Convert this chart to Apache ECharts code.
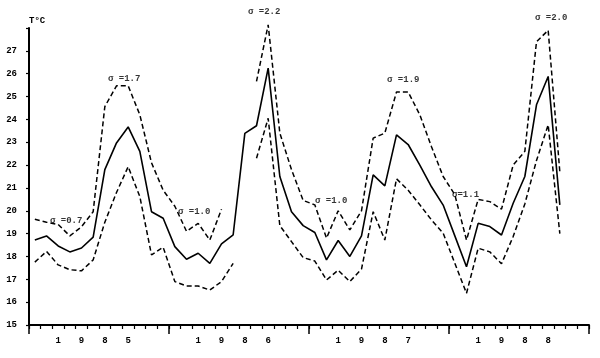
<!DOCTYPE html>
<html>
<head>
<meta charset="utf-8">
<script src="https://cdn.jsdelivr.net/npm/echarts@6/dist/echarts.min.js"></script>
<style>
html,body{margin:0;padding:0;background:#fff;}
#chart{width:600px;height:358px;}
</style>
</head>
<body>
<div id="chart"></div>
<script>
// ---- data (monthly, 1985-1988) ----
const months = [];
['1985','1986','1987','1988'].forEach(y => { for (let m = 1; m <= 12; m++) months.push(y + '-' + m); });

const xTickLabels = [
  '', '', '1', '', '9', '', '8', '', '5', '', '', '',
  '', '', '1', '', '9', '', '8', '', '6', '', '', '',
  '', '', '1', '', '9', '', '8', '', '7', '', '', '',
  '', '', '1', '', '9', '', '8', '', '8', '', '', ''
];

const meanT = [
  18.72, 18.9, 18.46, 18.2, 18.37, 18.85, 21.8, 22.97, 23.67, 22.6, 19.96, 19.67,
  18.43, 17.88, 18.14, 17.7, 18.55, 18.95, 23.39, 23.72, 26.24, 21.5, 19.96, 19.35,
  19.05, 17.85, 18.7, 18.0, 18.9, 21.57, 21.09, 23.32, 22.9, 22.0, 21.05, 20.25,
  18.9, 17.55, 19.45, 19.31, 18.94, 20.33, 21.5, 24.64, 25.88, 20.26, null, null
];

const upperT = [
  19.63, 19.5, 19.4, 18.9, 19.3, 19.96, 24.56, 25.47, 25.47, 24.2, 22.1, 20.9,
  20.2, 19.1, 19.45, 18.72, 20.07, null, null, 25.66, 28.14, 23.4, 21.8, 20.45,
  20.26, 18.8, 20.0, 19.16, 20.0, 23.18, 23.4, 25.2, 25.2, 24.2, 22.8, 21.5,
  20.7, 18.72, 20.5, 20.4, 20.07, 22.0, 22.6, 27.4, 27.9, 21.7, null, null
];

const lowerT = [
  17.75, 18.22, 17.63, 17.42, 17.37, 17.85, 19.5, 20.8, 21.93, 20.62, 18.07, 18.4,
  16.9, 16.71, 16.71, 16.53, 16.9, 17.7, null, 22.3, 24.05, 19.35, 18.65, 17.95,
  17.8, 16.97, 17.4, 16.9, 17.45, 19.96, 18.72, 21.4, 20.9, 20.26, 19.6, 19.02,
  17.7, 16.39, 18.36, 18.2, 17.68, 18.87, 20.3, 22.2, 23.76, 19.0, null, null
];

// sigma annotations: [month position, temperature, text]
const sigmaNotes = [
  [1.8, 19.56, 'σ =0.7'],
  [6.77, 25.78, 'σ =1.7'],
  [12.77, 19.95, 'σ =1.0'],
  [18.77, 28.7, 'σ =2.2'],
  [24.51, 20.43, 'σ =1.0'],
  [30.69, 25.73, 'σ =1.9'],
  [36.26, 20.69, 'σ=1.1'],
  [43.37, 28.45, 'σ =2.0']
];

const yMin = 15, yMax = 28;

// ---- chart ----
const FONT = '"Liberation Mono", "DejaVu Sans Mono", monospace';
const chart = echarts.init(document.getElementById('chart'), null, {renderer: 'canvas'});
const dashed = {color: '#000', width: 1.5, type: [5, 3]};

chart.setOption({
  animation: false,
  backgroundColor: '#fff',
  grid: {left: 29, right: 11, top: 28, bottom: 33},
  xAxis: [
    {
      type: 'category', data: months, boundaryGap: true,
      axisLine: {lineStyle: {color: '#000', width: 2}},
      axisTick: {show: true, interval: 0, length: 4, lineStyle: {color: '#000', width: 1.2}},
      axisLabel: {
        interval: 0, margin: 11, color: '#000', fontFamily: FONT, fontWeight: 'bold', fontSize: 9,
        formatter: (v, i) => xTickLabels[i]
      },
      splitLine: {show: false}
    },
    {
      type: 'category', data: months, boundaryGap: true, position: 'bottom',
      axisLine: {show: false},
      axisTick: {show: true, interval: 11, length: 9, lineStyle: {color: '#000', width: 1.5}},
      axisLabel: {show: false},
      splitLine: {show: false}
    },
    {type: 'value', min: 0, max: 48, show: false}
  ],
  yAxis: {
    type: 'value', min: yMin, max: yMax, interval: 1,
    name: 'T°C', nameLocation: 'end', nameGap: 3,
    nameTextStyle: {align: 'left', verticalAlign: 'bottom', color: '#000', fontFamily: FONT, fontWeight: 'bold', fontSize: 9},
    axisLine: {show: true, lineStyle: {color: '#000', width: 2}},
    axisTick: {show: true, length: 3, lineStyle: {color: '#000', width: 1.2}},
    axisLabel: {
      margin: 12, color: '#000', fontFamily: FONT, fontWeight: 'bold', fontSize: 9,
      formatter: v => (v === yMax ? '' : String(v))
    },
    splitLine: {show: false}
  },
  series: [
    {
      name: 'mean', type: 'line', data: meanT, xAxisIndex: 0,
      showSymbol: false, clip: false, connectNulls: false,
      lineStyle: {color: '#000', width: 1.6}
    },
    {
      name: 'mean + σ', type: 'line', data: upperT, xAxisIndex: 0,
      showSymbol: false, clip: false, connectNulls: false,
      lineStyle: dashed
    },
    {
      name: 'mean - σ', type: 'line', data: lowerT, xAxisIndex: 0,
      showSymbol: false, clip: false, connectNulls: false,
      lineStyle: dashed
    },
    {
      name: 'sigma', type: 'scatter', xAxisIndex: 2, clip: false,
      symbolSize: 0,
      data: sigmaNotes.map(d => ({value: [d[0], d[1]], label: {formatter: d[2]}})),
      label: {
        show: true, position: 'right', distance: 0, color: '#000',
        fontFamily: FONT, fontWeight: 'bold', fontSize: 9
      },
      silent: true
    }
  ]
});
</script>
</body>
</html>
